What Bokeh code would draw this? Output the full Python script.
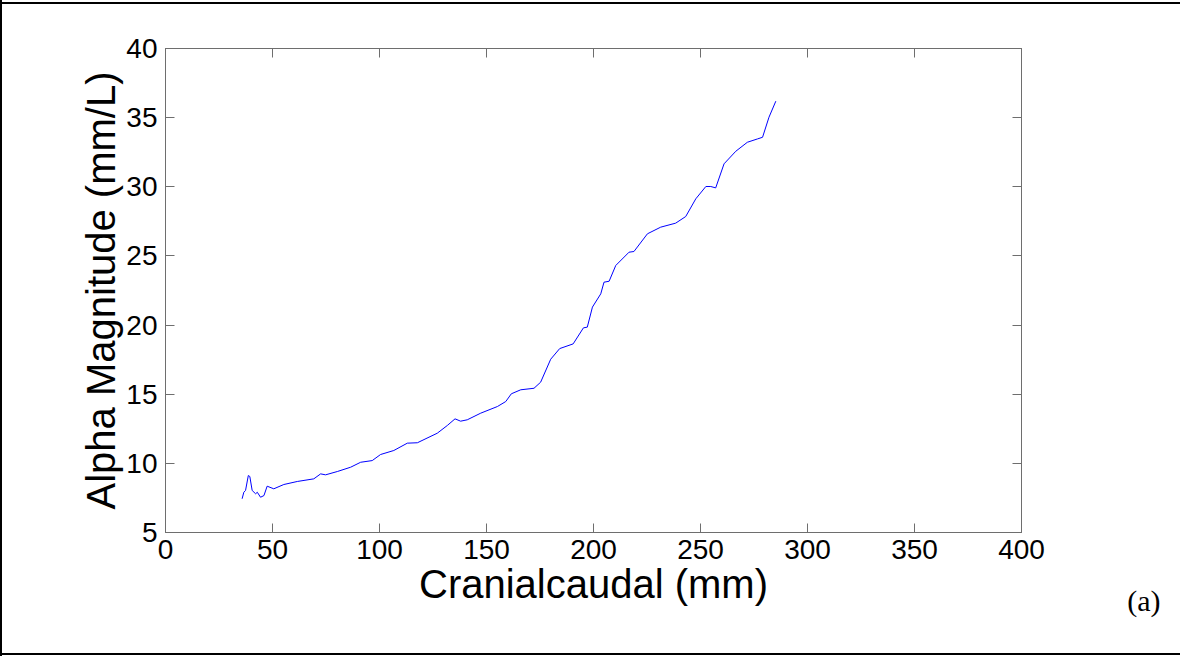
from bokeh.plotting import figure
from bokeh.models import LinearAxis, FixedTicker, Title, Range1d
from bokeh.embed import file_html
from bokeh.resources import INLINE

# Data
cranialcaudal_mm = [35.8, 36.6, 37.4, 38.7, 39.4, 40.5, 42.1, 42.9, 44.4, 46.0, 47.5, 50.6,
                    55.3, 61.6, 69.3, 72.5, 74.8, 80.3, 86.5, 91.2, 96.6, 100.5, 106.7, 113.0,
                    117.7, 127.0, 131.7, 135.3, 137.9, 141.0, 147.3, 155.1, 159.0, 161.6, 166.0,
                    172.2, 175.3, 180.0, 184.2, 190.5, 195.3, 197.1, 199.5, 203.4, 204.9, 207.3,
                    210.4, 216.6, 218.9, 225.2, 231.4, 238.4, 243.1, 247.8, 252.5, 254.8, 257.1,
                    261.0, 266.5, 271.9, 276.6, 279.0, 282.0, 285.2]
alpha_magnitude = [7.44, 7.91, 8.04, 9.12, 9.05, 8.04, 7.80, 7.91, 7.55, 7.67, 8.35, 8.16,
                   8.47, 8.69, 8.88, 9.24, 9.17, 9.41, 9.72, 10.08, 10.20, 10.64, 10.93, 11.46,
                   11.49, 12.18, 12.74, 13.22, 13.05, 13.15, 13.63, 14.11, 14.47, 15.03, 15.32,
                   15.43, 15.87, 17.53, 18.30, 18.64, 19.80, 19.85, 21.30, 22.26, 23.10, 23.17,
                   24.31, 25.27, 25.32, 26.60, 27.08, 27.37, 27.85, 29.13, 30.02, 30.02, 29.92,
                   31.66, 32.57, 33.22, 33.46, 33.58, 35.03, 36.19]
x_ticks = [0, 50, 100, 150, 200, 250, 300, 350, 400]
y_ticks = [5, 10, 15, 20, 25, 30, 35, 40]
panel_tag = "(a)"

FONT = "Liberation Sans"
AXIS_COLOR = "#6e6e6e"

p = figure(width=1180, height=656, output_backend="svg", toolbar_location=None,
           x_range=Range1d(0, 400), y_range=Range1d(5, 40),
           min_border_left=165, min_border_right=159, min_border_top=48, min_border_bottom=124)
p.grid.visible = False
p.outline_line_color = AXIS_COLOR
p.background_fill_color = "white"
p.border_fill_color = None
# black page border (left, top and bottom edges) painted behind the transparent canvas
p.styles = {
    "background-color": "white",
    "background-image": "linear-gradient(black, black), linear-gradient(black, black), "
                        "linear-gradient(black, black)",
    "background-size": "2px 100%, 100% 2px, 100% 2px",
    "background-position": "0px 0px, 0px 2px, 0px 653px",
    "background-repeat": "no-repeat",
}

p.line(cranialcaudal_mm, alpha_magnitude, line_color="#0000ff", line_width=1)

def style_axis(ax, ticks, labels=True):
    ax.ticker = FixedTicker(ticks=ticks)
    ax.axis_line_color = AXIS_COLOR
    ax.major_tick_line_color = AXIS_COLOR
    ax.major_tick_in = 9
    ax.major_tick_out = 0
    ax.minor_tick_line_color = None
    if labels:
        ax.major_label_text_font = FONT
        ax.major_label_text_font_size = "28px"
        ax.major_label_text_color = "black"
        ax.axis_label_text_font = FONT
        ax.axis_label_text_font_size = "40px"
        ax.axis_label_text_font_style = "normal"
        ax.axis_label_text_color = "black"
    else:
        ax.major_label_text_color = None
        ax.major_label_standoff = 0

style_axis(p.xaxis[0], x_ticks)
style_axis(p.yaxis[0], y_ticks)
p.xaxis[0].axis_label = "Cranialcaudal (mm)"
p.yaxis[0].axis_label = "Alpha Magnitude (mm/L)"
p.xaxis[0].major_label_standoff = 7
p.yaxis[0].major_label_standoff = 8
p.xaxis[0].axis_label_standoff = 0
p.yaxis[0].axis_label_standoff = 0

top_ax = LinearAxis()
right_ax = LinearAxis()
style_axis(top_ax, x_ticks, labels=False)
style_axis(right_ax, y_ticks, labels=False)
p.add_layout(top_ax, "above")
p.add_layout(right_ax, "right")

p.add_layout(Title(text=panel_tag, align="right", offset=-139, standoff=-50,
                   vertical_align="top",
                   text_font="Liberation Serif", text_font_size="30px",
                   text_font_style="normal", text_color="black"), "below")

open("out.html", "w").write(file_html(p, INLINE))
